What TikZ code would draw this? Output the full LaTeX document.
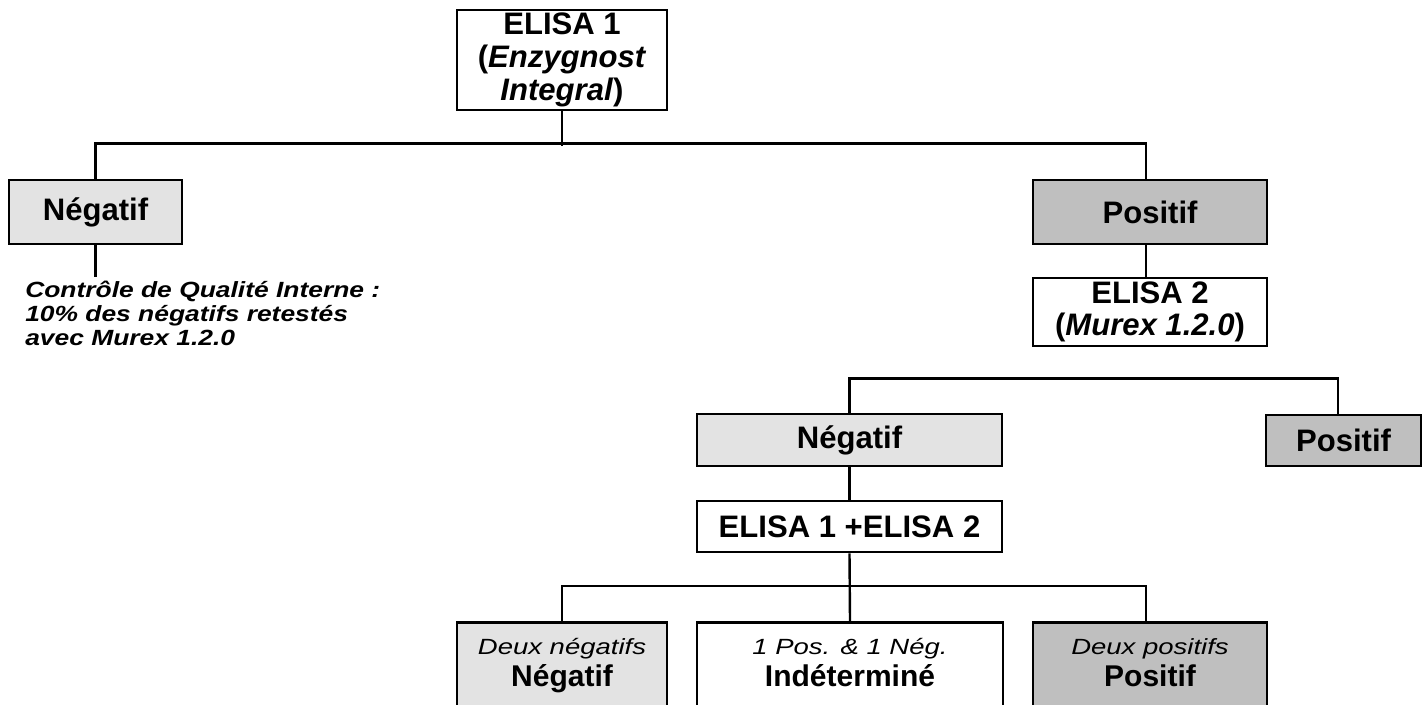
\documentclass[tikz,border=0pt]{standalone}
\usepackage{fontspec}
\setmainfont{Liberation Sans}
\newfontfamily\stretchfont[FakeStretch=1.25]{Liberation Sans}
\newfontfamily\commentfont[FakeStretch=1.2]{Liberation Sans}
\usetikzlibrary{calc}
\definecolor{lightfill}{gray}{0.89}
\definecolor{darkfill}{gray}{0.75}
\begin{document}
\begin{tikzpicture}[x=0.75pt,y=-0.75pt,
  boxbase/.style={draw, line width=2pt, inner sep=0pt, align=center,
    font=\fontsize{23.3}{24.5}\selectfont\bfseries},
  negbox/.style={boxbase, fill=lightfill},
  posbox/.style={boxbase, fill=darkfill},
  plainbox/.style={boxbase, fill=white},
  conn/.style={line width=1.8pt},
  smallit/.style={inner sep=0pt, font=\stretchfont\fontsize{16.5}{18}\selectfont\itshape},
  bigbold/.style={inner sep=0pt, font=\fontsize{22.5}{24}\selectfont\bfseries},
  commenttext/.style={inner sep=0pt, align=left,
    font=\commentfont\fontsize{16.5}{18}\selectfont\bfseries\itshape}]
\useasboundingbox (0,0) rectangle (1424,704);
\clip (0,0) rectangle (1424,704);

% level 1
\node[plainbox, minimum width=157.5pt, minimum height=75pt] (E1) at (562,60)
  {ELISA 1\\(\textit{Enzygnost}\\\textit{Integral})};

% level 2
\node[negbox, minimum width=129.75pt, minimum height=48pt] (NL) at (95.5,212) {Négatif};
\node[posbox, minimum width=175.5pt, minimum height=48pt] (PR) at (1150,212) {Positif};

\coordinate (cfree) at (95.5,277);
\node[commenttext, anchor=north west] (CQ) at (25,281)
  {Contrôle de Qualité Interne :\\10\% des négatifs retestés\\avec Murex 1.2.0};

\node[plainbox, minimum width=175.5pt, minimum height=51pt] (E2) at (1150,312)
  {ELISA 2\\(\textit{Murex 1.2.0})};

% level 3
\node[negbox, minimum width=228.75pt, minimum height=39pt] (NM) at (849.5,440) {Négatif};
\node[posbox, minimum width=116.25pt, minimum height=38.25pt] (PS) at (1343.5,440.5) {Positif};

\node[plainbox, minimum width=228.75pt, minimum height=38.25pt] (E12) at (849.5,526.5) {ELISA 1 +ELISA 2};

% level 4
\node[negbox, minimum width=157.5pt, minimum height=82.5pt, anchor=north] (BL) at (562,621) {};
\node[plainbox, minimum width=229.5pt, minimum height=82.5pt, anchor=north] (BM) at (850,621) {};
\node[posbox, minimum width=175.5pt, minimum height=82.5pt, anchor=north] (BR) at (1150,621) {};

\node[smallit, anchor=base] (BLa) at ($(BL.north)+(0,33)$) {Deux négatifs};
\node[bigbold, anchor=base] (BLb) at ($(BL.north)+(0,65)$) {Négatif};
\node[smallit, anchor=base] (BMa) at ($(BM.north)+(0,33)$) {1 Pos. \& 1 Nég.};
\node[bigbold, anchor=base] (BMb) at ($(BM.north)+(0,65)$) {Indéterminé};
\node[smallit, anchor=base] (BRa) at ($(BR.north)+(0,33)$) {Deux positifs};
\node[bigbold, anchor=base] (BRb) at ($(BR.north)+(0,65)$) {Positif};

% connectors
\draw[conn] (E1.south) -- ++(0,35);
\draw[conn] (NL.north) -- ++(0,-35) -| ($(PR.north)+(-4,0)$);
\draw[conn] (NL.south) -- (cfree);
\draw[conn] ($(PR.south)+(-4,0)$) -- ($(E2.north)+(-4,0)$);
\draw[conn] (NM.north) -- ++(0,-34) -| ($(PS.north)+(-5.5,0)$);
\draw[conn] (NM.south) -- (E12.north);
\draw[conn] (E12.south) -- (BM.north);
\draw[conn] (BL.north) -- ++(0,-35) -| ($(BR.north)+(-4,0)$);
\end{tikzpicture}
\end{document}
